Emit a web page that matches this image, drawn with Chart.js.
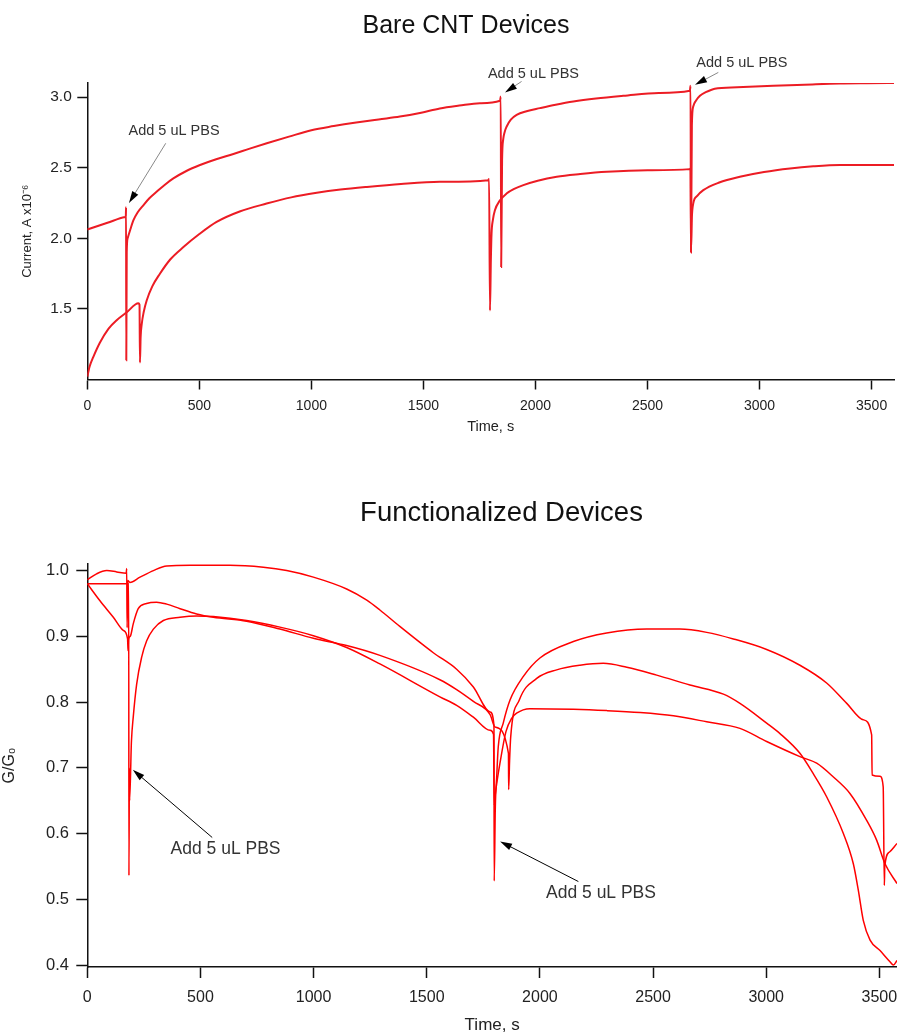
<!DOCTYPE html>
<html>
<head>
<meta charset="utf-8">
<script src="https://cdn.jsdelivr.net/npm/chart.js@4/dist/chart.umd.min.js"></script>
<style>
  html, body { margin: 0; padding: 0; background: #fff; overflow: hidden; width: 897px; height: 1033px; }
  canvas { position: absolute; left: 0; }
  #bare { top: 0; }
  #func { top: 440px; }
</style>
</head>
<body>
<canvas id="bare" width="897" height="440"></canvas>
<canvas id="func" width="920" height="600"></canvas>
<script>
'use strict';

// ---- Bare CNT devices (current, A x10^-6) ----
let bareTimeA = [0, 90, 168, 172, 173, 174, 176, 180, 191, 206, 225, 250, 278, 309, 345, 384, 440, 503, 575, 652, 725, 801, 900, 1000, 1100, 1200, 1300, 1395, 1490, 1573,
  1660, 1752, 1842, 1845, 1847, 1851, 1856, 1862, 1871, 1890, 1916, 1960, 2020, 2090, 2169, 2270, 2392, 2550, 2689, 2692, 2694, 2698, 2704, 2716, 2734, 2760, 2800, 2900, 3061, 3200, 3359, 3480, 3600];
let bareCurrentA = [2.062, 2.11, 2.151, 2.16, 2.22, 1.137, 1.90, 2.00, 2.057, 2.128, 2.185, 2.234, 2.285, 2.329, 2.378, 2.424, 2.475, 2.519, 2.56, 2.597, 2.635, 2.673, 2.72, 2.766, 2.795, 2.82, 2.842, 2.862, 2.89, 2.92,
  2.94, 2.957, 2.974, 3.004, 1.796, 2.55, 2.70, 2.75, 2.79, 2.84, 2.874, 2.90, 2.922, 2.946, 2.969, 2.99, 3.009, 3.03, 3.045, 3.08, 1.90, 2.80, 2.933, 2.975, 3.01, 3.035, 3.06, 3.07, 3.08, 3.088, 3.097, 3.099, 3.10];

let bareTimeB = [0, 10, 27, 56, 95, 131, 176, 228, 233, 235, 238, 243, 252, 265, 290, 324, 370, 429, 500, 577, 680, 800, 910, 1024, 1130, 1247, 1400, 1573, 1789, 1793, 1797, 1801, 1804,
  1810, 1819, 1840, 1871, 1905, 1946, 2010, 2095, 2200, 2318, 2500, 2689, 2692, 2694, 2698, 2704, 2722, 2749, 2820, 2912, 3020, 3136, 3240, 3359, 3600];
let bareCurrentB = [1.02, 1.09, 1.16, 1.26, 1.36, 1.42, 1.476, 1.54, 1.53, 1.12, 1.30, 1.393, 1.48, 1.56, 1.66, 1.749, 1.85, 1.938, 2.03, 2.116, 2.19, 2.246, 2.29, 2.322, 2.345, 2.364, 2.385, 2.40, 2.412, 2.42, 1.488, 1.85, 2.033,
  2.13, 2.199, 2.265, 2.317, 2.35, 2.377, 2.408, 2.436, 2.455, 2.471, 2.482, 2.49, 2.495, 1.914, 2.15, 2.246, 2.30, 2.341, 2.395, 2.436, 2.47, 2.495, 2.51, 2.519, 2.519];

// ---- Functionalized devices (G/G0) ----
let funcTime1 = [0, 41, 86, 130, 172, 174, 176, 179, 188, 233, 292, 351, 454, 630, 778, 881, 999, 1146, 1235, 1293, 1381, 1529, 1632, 1706, 1780, 1797,
  1798, 1803, 1809, 1816, 1838, 1868, 1927, 2000, 2148, 2295, 2472, 2619, 2737, 2855, 3002, 3149, 3267, 3356, 3429, 3466, 3468, 3503, 3517, 3522, 3524, 3545, 3578];
let funcRatio1 = [0.986, 0.995, 1.000, 0.998, 0.996, 1.003, 0.913, 0.985, 0.982, 0.990, 1.000, 1.007, 1.008, 1.008, 1.005, 1.000, 0.990, 0.972, 0.955, 0.940, 0.915, 0.875, 0.850, 0.823, 0.785, 0.765,
  0.528, 0.64, 0.686, 0.732, 0.768, 0.803, 0.839, 0.867, 0.892, 0.905, 0.911, 0.911, 0.906, 0.896, 0.880, 0.856, 0.829, 0.798, 0.773, 0.750, 0.689, 0.687, 0.671, 0.521, 0.55, 0.572, 0.585];

let funcTime2 = [0, 56, 115, 159, 178, 180, 182, 190, 203, 225, 262, 306, 351, 410, 483, 557, 704, 851, 999, 1146, 1293, 1558, 1632, 1706, 1780, 1802,
  1861, 1862, 1866, 1871, 1909, 1986, 2074, 2177, 2280, 2384, 2516, 2663, 2811, 2884, 3002, 3061, 3149, 3208, 3267, 3341, 3385, 3407, 3429, 3459, 3503, 3547, 3562, 3578];
let funcRatio2 = [0.980, 0.954, 0.929, 0.909, 0.896, 0.878, 0.895, 0.900, 0.919, 0.942, 0.950, 0.952, 0.949, 0.942, 0.934, 0.929, 0.923, 0.911, 0.897, 0.886, 0.871, 0.834, 0.819, 0.801, 0.781, 0.762,
  0.722, 0.667, 0.71, 0.747, 0.803, 0.836, 0.849, 0.856, 0.859, 0.853, 0.841, 0.826, 0.812, 0.798, 0.768, 0.752, 0.722, 0.691, 0.656, 0.600, 0.554, 0.514, 0.468, 0.438, 0.422, 0.405, 0.400, 0.407];

let funcTime3 = [0, 100, 183, 184, 186, 187, 195, 203, 218, 240, 262, 292, 336, 410, 483, 557, 704, 851, 999, 1146, 1293, 1558, 1632, 1706, 1780, 1795,
  1798, 1803, 1825, 1850, 1875, 1897, 1956, 2148, 2295, 2443, 2590, 2737, 2884, 3002, 3149, 3223, 3297, 3370, 3444, 3488, 3525, 3578];
let funcRatio3 = [0.980, 0.980, 0.980, 0.536, 0.70, 0.65, 0.74, 0.777, 0.827, 0.868, 0.893, 0.911, 0.924, 0.929, 0.931, 0.930, 0.924, 0.914, 0.901, 0.883, 0.858, 0.808, 0.795, 0.777, 0.757, 0.751,
  0.643, 0.66, 0.71, 0.755, 0.775, 0.783, 0.790, 0.789, 0.787, 0.784, 0.779, 0.770, 0.760, 0.740, 0.717, 0.707, 0.686, 0.661, 0.620, 0.590, 0.554, 0.524];

// tick values
let timeTicks = [0, 500, 1000, 1500, 2000, 2500, 3000, 3500];
let bareCurrentTicks = [1.5, 2.0, 2.5, 3.0];
let funcRatioTicks = [0.4, 0.5, 0.6, 0.7, 0.8, 0.9, 1.0];

// "Add 5 uL PBS" notes, in data units: [time, value]
let noteText = 'Add 5 uL PBS';
let bareNoteAt = [[387, 2.763], [1991, 3.166], [2921, 3.242]];
let bareNoteTail = [[350, 2.673], [1938, 3.111], [2816, 3.175]];
let bareNoteTip = [[186, 2.25], [1864, 3.033], [2712, 3.087]];
let funcNoteAt = [[611, 0.576], [2270, 0.509]];
let funcNoteTail = [[552, 0.594], [2170, 0.527]];
let funcNoteTip = [[201, 0.697], [1824, 0.588]];

Chart.defaults.font.family = '"Liberation Sans", Arial, sans-serif';
Chart.defaults.color = '#222';

let pts = (times, values) => times.map((t, i) => ({x: t, y: values[i]}));

let line = (times, values, color, width) => ({
	data: pts(times, values),
	borderColor: color,
	borderWidth: width,
	pointRadius: 0,
	cubicInterpolationMode: 'monotone',
	fill: false
});

let arrow = (ctx, x0, y0, x1, y1, lineColor) => {
	let ang = Math.atan2(y1 - y0, x1 - x0);
	let len = 12, half = 3.5;
	ctx.strokeStyle = lineColor;
	ctx.lineWidth = 1;
	ctx.beginPath();
	ctx.moveTo(x0, y0);
	ctx.lineTo(x1 - Math.cos(ang) * len * 0.8, y1 - Math.sin(ang) * len * 0.8);
	ctx.stroke();
	ctx.fillStyle = '#000';
	ctx.beginPath();
	ctx.moveTo(x1, y1);
	ctx.lineTo(x1 - Math.cos(ang) * len - Math.sin(ang) * half, y1 - Math.sin(ang) * len + Math.cos(ang) * half);
	ctx.lineTo(x1 - Math.cos(ang) * len + Math.sin(ang) * half, y1 - Math.sin(ang) * len - Math.cos(ang) * half);
	ctx.closePath();
	ctx.fill();
};

// title text + PBS notes
let decor = (title, titleX, titleBase, titleSize, at, tail, tip, noteSize, lineColor) => ({
	id: 'decor',
	afterDraw(chart) {
		let ctx = chart.ctx;
		let xs = chart.scales.x, ys = chart.scales.y;
		ctx.save();
		ctx.fillStyle = '#111';
		ctx.font = titleSize + 'px "Liberation Sans", Arial, sans-serif';
		ctx.textAlign = 'center';
		ctx.textBaseline = 'alphabetic';
		ctx.fillText(title, titleX, titleBase);

		ctx.font = noteSize + 'px "Liberation Sans", Arial, sans-serif';
		ctx.textBaseline = 'middle';
		at.forEach((p, i) => {
			ctx.fillStyle = '#333';
			ctx.fillText(noteText, xs.getPixelForValue(p[0]), ys.getPixelForValue(p[1]));
			arrow(ctx, xs.getPixelForValue(tail[i][0]), ys.getPixelForValue(tail[i][1]),
				xs.getPixelForValue(tip[i][0]), ys.getPixelForValue(tip[i][1]), lineColor);
		});
		ctx.restore();
	}
});

let axisX = (max, height, tickLen, tickSize, tickPad, titleSize, titlePad) => ({
	type: 'linear',
	min: 0,
	max: max,
	afterBuildTicks: s => { s.ticks = timeTicks.map(v => ({value: v})); },
	afterFit: s => { s.height = height; s.paddingLeft = 0; s.paddingRight = 0; },
	grid: { drawOnChartArea: false, drawTicks: true, tickLength: tickLen, tickColor: '#111', tickWidth: 1.5 },
	border: { color: '#111', width: 1.5 },
	ticks: { font: {size: tickSize}, color: '#222', padding: tickPad, maxRotation: 0, autoSkip: false, callback: v => String(v) },
	title: { display: true, text: 'Time, s', font: {size: titleSize}, color: '#222', padding: {top: 0, bottom: titlePad} }
});

let axisY = (min, max, tickVals, tickLen, tickSize, tickPad, text, titleSize, titlePad) => ({
	type: 'linear',
	min: min,
	max: max,
	afterBuildTicks: s => { s.ticks = tickVals.map(v => ({value: v})); },
	afterFit: s => { s.width = 87.3; s.paddingTop = 0; s.paddingBottom = 0; },
	grid: { drawOnChartArea: false, drawTicks: true, tickLength: tickLen, tickColor: '#111', tickWidth: 1.5 },
	border: { color: '#111', width: 1.5 },
	ticks: { font: {size: tickSize}, color: '#222', padding: tickPad, callback: v => v.toFixed(1) },
	title: { display: true, text: text, font: {size: titleSize}, color: '#222', padding: {top: titlePad, bottom: 0} }
});

let bareRed = 'rgb(236, 28, 36)';
let funcRed = 'rgb(255, 0, 0)';

new Chart(document.getElementById('bare'), {
	type: 'line',
	data: {
		datasets: [
			line(bareTimeA, bareCurrentA, bareRed, 2),
			line(bareTimeB, bareCurrentB, bareRed, 2)
		]
	},
	options: {
		responsive: false,
		animation: false,
		layout: { padding: {left: 0, right: 3, top: 83, bottom: 0} },
		plugins: { legend: {display: false}, tooltip: {enabled: false} },
		scales: {
			x: axisX(3600, 60.5, 10, 14, 7.8, 14.5, 3.9),
			y: axisY(1.0, 3.1, bareCurrentTicks, 10, 15.5, 5.5, 'Current, A x10\u207B\u2076', 13, 19.2)
		}
	},
	plugins: [decor('Bare CNT Devices', 466, 32.7, 25, bareNoteAt, bareNoteTail, bareNoteTip, 14.5, '#888')]
});

new Chart(document.getElementById('func'), {
	type: 'line',
	data: {
		datasets: [
			line(funcTime1, funcRatio1, funcRed, 1.5),
			line(funcTime2, funcRatio2, funcRed, 1.5),
			line(funcTime3, funcRatio3, funcRed, 1.5)
		]
	},
	options: {
		responsive: false,
		animation: false,
		layout: { padding: {left: 0, right: 23, top: 124, bottom: 0} },
		plugins: { legend: {display: false}, tooltip: {enabled: false} },
		scales: {
			x: axisX(3578, 73, 11, 16, 9.5, 17, 4.8),
			y: axisY(0.397, 1.01, funcRatioTicks, 11, 16.5, 7.3, 'G/G\u2080', 16, 0)
		}
	},
	plugins: [decor('Functionalized Devices', 501.5, 80.5, 27.5, funcNoteAt, funcNoteTail, funcNoteTip, 17.5, '#000')]
});
</script>
</body>
</html>
